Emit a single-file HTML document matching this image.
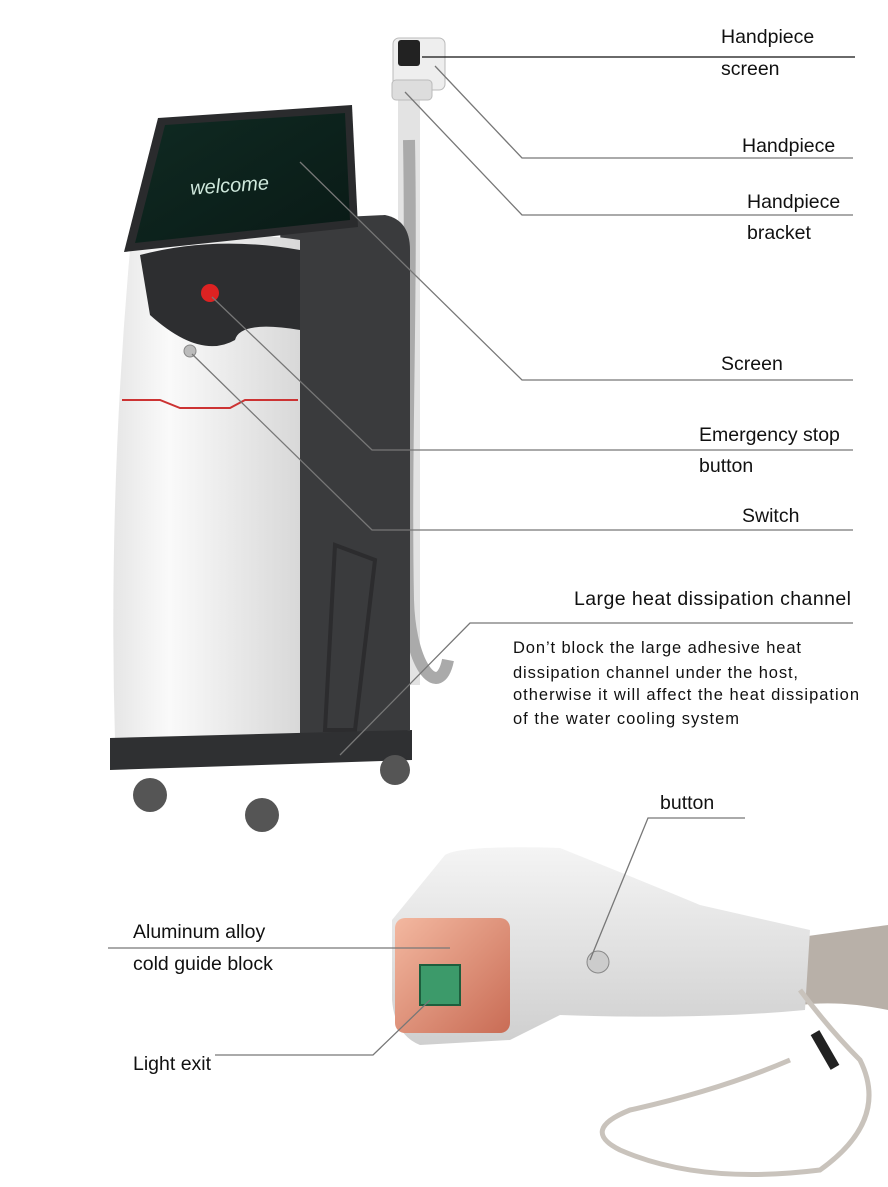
<!DOCTYPE html>
<html><head><meta charset="utf-8">
<style>
html,body{margin:0;padding:0;background:#fff;}
svg{display:block}
text{font-family:"Liberation Sans",sans-serif;fill:#111;}
</style></head>
<body>
<svg width="888" height="1187" viewBox="0 0 888 1187" xmlns="http://www.w3.org/2000/svg">
<defs>
<linearGradient id="body" x1="0" x2="1"><stop offset="0" stop-color="#e6e6e6"/><stop offset="0.3" stop-color="#fafafa"/><stop offset="1" stop-color="#d8d8d8"/></linearGradient>
<linearGradient id="scr" x1="0" y1="0" x2="1" y2="1"><stop offset="0" stop-color="#0f2a22"/><stop offset="1" stop-color="#0a1a16"/></linearGradient>
<linearGradient id="cu" x1="0" y1="0" x2="1" y2="1"><stop offset="0" stop-color="#f3b8a0"/><stop offset="1" stop-color="#c96c55"/></linearGradient>
<linearGradient id="hp" x1="0" y1="0" x2="0" y2="1"><stop offset="0" stop-color="#f4f4f4"/><stop offset="1" stop-color="#cfcfcf"/></linearGradient>
</defs>

<rect x="398" y="85" width="22" height="600" fill="#e3e3e3"/>
<path d="M409 140 C412 300 405 450 408 600 C410 670 440 700 448 660" stroke="#aaa" stroke-width="12" fill="none"/>
<rect x="393" y="38" width="52" height="52" rx="6" fill="#eee" stroke="#bbb"/>
<rect x="398" y="40" width="22" height="26" rx="3" fill="#222"/>
<rect x="392" y="80" width="40" height="20" rx="4" fill="#ddd" stroke="#bbb"/>

<path d="M280 220 L385 215 Q410 220 410 250 L410 730 L290 750 Z" fill="#3a3b3d"/>
<path d="M335 545 L375 560 L355 730 L325 730 Z" fill="none" stroke="#2c2c2e" stroke-width="4"/>
<path d="M130 250 Q200 225 300 240 L300 745 Q200 760 115 740 Q108 500 130 250 Z" fill="url(#body)"/>
<path d="M140 255 Q215 235 300 250 L300 330 Q240 320 235 340 Q200 360 150 315 Z" fill="#2d2e30"/>
<path d="M122 400 L160 400 L180 408 L230 408 L245 400 L298 400" stroke="#c33" stroke-width="2" fill="none"/>
<circle cx="210" cy="293" r="9" fill="#d22"/>
<circle cx="190" cy="351" r="6" fill="#bbb" stroke="#888"/>
<path d="M110 738 L412 730 L412 760 L110 770 Z" fill="#2f3032"/>
<circle cx="150" cy="795" r="17" fill="#555"/><circle cx="262" cy="815" r="17" fill="#555"/>
<circle cx="395" cy="770" r="15" fill="#555"/>
<polygon points="158,118 352,105 358,227 124,252" fill="#2a2b2d"/>
<polygon points="165,125 345,113 350,220 135,243" fill="url(#scr)"/>
<text x="190" y="192" font-size="20" font-style="italic" style="fill:#cfe8dc" transform="rotate(-4 230 185)">welcome</text>

<path d="M780 940 Q850 930 888 925 L888 1010 Q840 1000 800 1005 Z" fill="#b8b0a8"/>
<path d="M445 855 Q460 845 560 848 Q640 880 700 905 L810 930 L805 1010 Q700 1020 560 1015 L510 1040 L420 1045 Q395 1035 392 1000 L392 920 Z" fill="url(#hp)"/>
<rect x="395" y="918" width="115" height="115" rx="10" fill="url(#cu)"/>
<rect x="420" y="965" width="40" height="40" fill="#3c9a6a" stroke="#1d5e3d" stroke-width="2"/>
<circle cx="598" cy="962" r="11" fill="#ccc" stroke="#888"/>
<path d="M800 990 Q830 1030 860 1060 Q890 1120 820 1170 Q700 1185 620 1150 Q580 1130 630 1110 Q720 1090 790 1060" stroke="#c9c3bc" stroke-width="5" fill="none"/>
<rect x="820" y="1030" width="10" height="40" fill="#222" transform="rotate(-30 825 1050)"/>

<g stroke="#777" stroke-width="1.3" fill="none">
<path d="M422 57 L855 57" stroke="#111"/>
<path d="M435 66 L522 158 L853 158"/>
<path d="M405 92 L522 215 L853 215"/>
<path d="M300 162 L522 380 L853 380"/>
<path d="M212 297 L372 450 L853 450"/>
<path d="M192 354 L372 530 L853 530"/>
<path d="M340 755 L470 623 L853 623"/>
<path d="M590 960 L648 818 L745 818"/>
<path d="M108 948 L450 948"/>
<path d="M215 1055 L373 1055 L430 1000"/>
</g>

<g font-size="19.5">
<text x="721" y="43">Handpiece</text>
<text x="721" y="75">screen</text>
<text x="742" y="152">Handpiece</text>
<text x="747" y="208">Handpiece</text>
<text x="747" y="239">bracket</text>
<text x="721" y="370">Screen</text>
<text x="699" y="441">Emergency stop</text>
<text x="699" y="472">button</text>
<text x="742" y="522">Switch</text>
<text x="574" y="605" textLength="277">Large heat dissipation channel</text>
<text x="660" y="809">button</text>
<text x="133" y="938">Aluminum alloy</text>
<text x="133" y="970">cold guide block</text>
<text x="133" y="1070">Light exit</text>
</g>
<g font-size="16.5">
<text x="513" y="653" textLength="288">Don’t block the large adhesive heat</text>
<text x="513" y="678" textLength="285">dissipation channel under the host,</text>
<text x="513" y="700" textLength="346">otherwise it will affect the heat dissipation</text>
<text x="513" y="724" textLength="226">of the water cooling system</text>
</g>
</svg>
</body></html>
